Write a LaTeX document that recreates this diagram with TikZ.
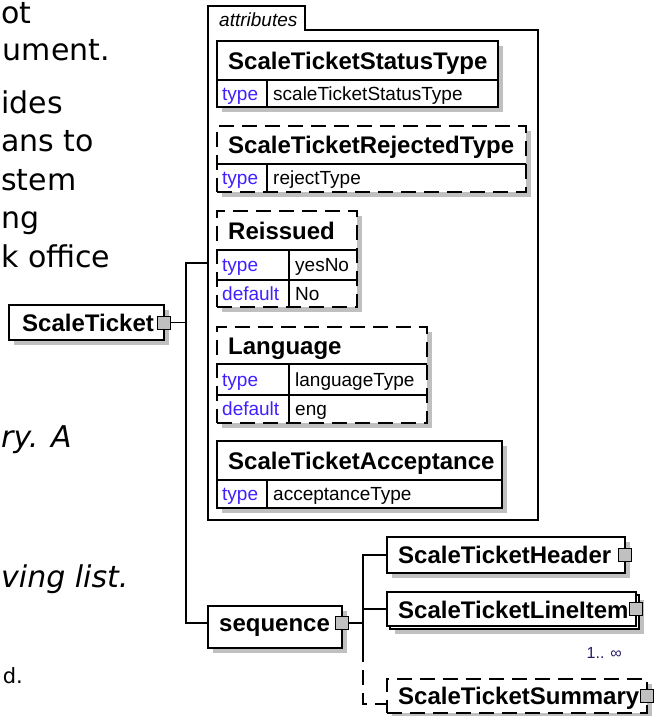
\documentclass[tikz,border=0pt]{standalone}
\usepackage{fontspec}
\setmainfont{Liberation Sans}
\newfontfamily\verd{DejaVu Sans}[ItalicFont={DejaVu Sans Oblique}]
\usetikzlibrary{shadows}
\definecolor{shd}{RGB}{192,192,192}
\definecolor{sqfill}{RGB}{192,192,192}
\definecolor{kw}{RGB}{64,32,255}
\definecolor{occ}{RGB}{40,30,100}
\begin{document}
\begin{tikzpicture}[x=1pt,y=-1pt,
  lw/.style={line width=1.3pt},
  shad/.style={drop shadow={shadow xshift=4.5pt,shadow yshift=-4.5pt,fill=shd,opacity=1}},
  elbox/.style={draw,lw,fill=white,shad,anchor=north west,inner sep=0,outer sep=0},
  optbox/.style={elbox,dash pattern=on 15pt off 8pt},
  plainbox/.style={draw,lw,fill=white,anchor=north west,inner sep=0,outer sep=0},
  sq/.style={draw,line width=1pt,fill=sqfill,minimum size=13pt,inner sep=0,outer sep=0},
  conn/.style={lw},
  optconn/.style={lw,dash pattern=on 15pt off 8pt},
  hd/.style={font=\fontsize{24}{28}\selectfont\bfseries,anchor=base west,inner sep=0},
  kwd/.style={font=\fontsize{19}{22}\selectfont,text=kw,anchor=base west,inner sep=0},
  val/.style={font=\fontsize{19}{22}\selectfont,anchor=base west,inner sep=0},
  doc/.style={font=\verd\fontsize{30}{36}\selectfont,anchor=base east,inner sep=0},
  docw/.style={font=\verd\fontsize{30}{36}\selectfont,anchor=base west,inner sep=0},
  docit/.style={font=\verd\itshape\fontsize{30}{36}\selectfont,anchor=base west,inner sep=0},
]
\useasboundingbox (0,0) rectangle (656,716);

% document text fragments
\node[docw] (t1) at (1,23.5) {ot};
\node[doc] (t2) at (110,60) {ument.};
\node[docw] (t3) at (1,113) {ides};
\node[docw] (t4) at (1,151.5) {ans to};
\node[docw] (t5) at (1,190) {stem};
\node[docw] (t6) at (1,228.5) {ng};
\node[docw] (t7) at (1,267) {k office};
\node[docit] (t8) at (1,447) {ry. A};
\node[docit] (t9) at (1,587) {ving list.};
\node[doc,font=\verd\fontsize{21}{25}\selectfont] (t10) at (23,683) {d.};

% root element
\node[elbox,minimum width=155pt,minimum height=35pt] (st) at (9,305) {};
\node[hd] (stl) at (22,331.2) {ScaleTicket};
\node[sq] (stq) at (st.east) {};

% attributes container
\draw[lw] (208,520) -- (208,6) -- (305,6) -- (305,30) -- (538,30) -- (538,520) -- cycle;
\node[font=\fontsize{19}{22}\selectfont\itshape,anchor=base west,inner sep=0] (attl) at (219,26) {attributes};
\coordinate (attrL) at (208,263);

% attribute 1
\node[elbox,minimum width=281pt,minimum height=66pt] (a1) at (217,41) {};
\draw[lw] (217,80) -- (498,80) (267,80) -- (267,107);
\node[hd] (a1h) at (228,69) {ScaleTicketStatusType};
\node[kwd] (a1k) at (222,100.3) {type};
\node[val] (a1v) at (273,100.3) {scaleTicketStatusType};

% attribute 2
\node[optbox,minimum width=309pt,minimum height=66pt] (a2) at (217,126) {};
\draw[lw] (217,164) -- (526,164) (267,164) -- (267,192);
\node[hd] (a2h) at (228,153.6) {ScaleTicketRejectedType};
\node[kwd] (a2k) at (222,184.8) {type};
\node[val] (a2v) at (273,184.8) {rejectType};

% attribute 3
\node[optbox,minimum width=140pt,minimum height=96pt] (a3) at (217,211) {};
\draw[lw] (217,250) -- (357,250) (217,280) -- (357,280) (289,250) -- (289,307);
\node[hd] (a3h) at (228,239) {Reissued};
\node[kwd] (a3k) at (222,271.8) {type};
\node[val] (a3v) at (295,271.8) {yesNo};
\node[kwd] (a3k2) at (222,300.3) {default};
\node[val] (a3v2) at (295,300.3) {No};

% attribute 4
\node[optbox,minimum width=210pt,minimum height=96pt] (a4) at (217,327) {};
\draw[lw] (217,364) -- (427,364) (217,395) -- (427,395) (289,364) -- (289,423);
\node[hd] (a4h) at (228,354) {Language};
\node[kwd] (a4k) at (222,386.3) {type};
\node[val] (a4v) at (295,386.3) {languageType};
\node[kwd] (a4k2) at (222,415.8) {default};
\node[val] (a4v2) at (295,415.8) {eng};

% attribute 5
\node[elbox,minimum width=285pt,minimum height=67pt] (a5) at (217,441) {};
\draw[lw] (217,480) -- (502,480) (267,480) -- (267,508);
\node[hd] (a5h) at (228,469) {ScaleTicketAcceptance};
\node[kwd] (a5k) at (222,500.8) {type};
\node[val] (a5v) at (273,500.8) {acceptanceType};

% sequence
\node[elbox,minimum width=134pt,minimum height=42pt] (seq) at (208,606) {};
\node[hd] (seql) at (219,631.5) {sequence};
\node[sq] (seqq) at ([yshift=4pt]seq.east) {};
\coordinate (seqin) at ([yshift=4pt]seq.west);

% children
\node[elbox,minimum width=238pt,minimum height=36pt] (hdr) at (387,537) {};
\node[hd] (hdrl) at (398,563.6) {ScaleTicketHeader};
\node[sq] (hdrq) at (hdr.east) {};

\node[elbox,minimum width=249pt,minimum height=34pt] (liB) at (390,595) {};
\node[plainbox,minimum width=249pt,minimum height=34pt] (li) at (387,592) {};
\node[hd] (lil) at (398,618) {ScaleTicketLineItem};
\node[sq] (liq) at (li.east) {};
\node[font=\fontsize{16}{19}\selectfont,text=occ,anchor=base east,inner sep=0] (occl) at (622,658) {1.. ∞};

\node[optbox,minimum width=260pt,minimum height=34pt] (sum) at (387,679) {};
\node[hd] (suml) at (398,704.6) {ScaleTicketSummary};
\node[sq] (sumq) at (sum.east) {};
\coordinate (sumin) at ([yshift=-8pt]sum.west);

% connectors
\coordinate (b1) at (186,0);
\coordinate (b2) at (363,0);
\coordinate (b2s) at (363,647);
\draw[conn] (stq.east) -- (stq.east -| b1);
\draw[conn] (attrL) -- (attrL -| b1) -- (seqin -| b1) -- (seqin);
\draw[conn] (seqq.east) -- (seqq.east -| b2);
\draw[conn] (hdr.west) -- (hdr.west -| b2) -- (b2s);
\draw[conn] (li.west) -- (li.west -| b2);
\draw[optconn] (b2s) -- (sumin -| b2) -- (sumin);
\end{tikzpicture}
\end{document}
